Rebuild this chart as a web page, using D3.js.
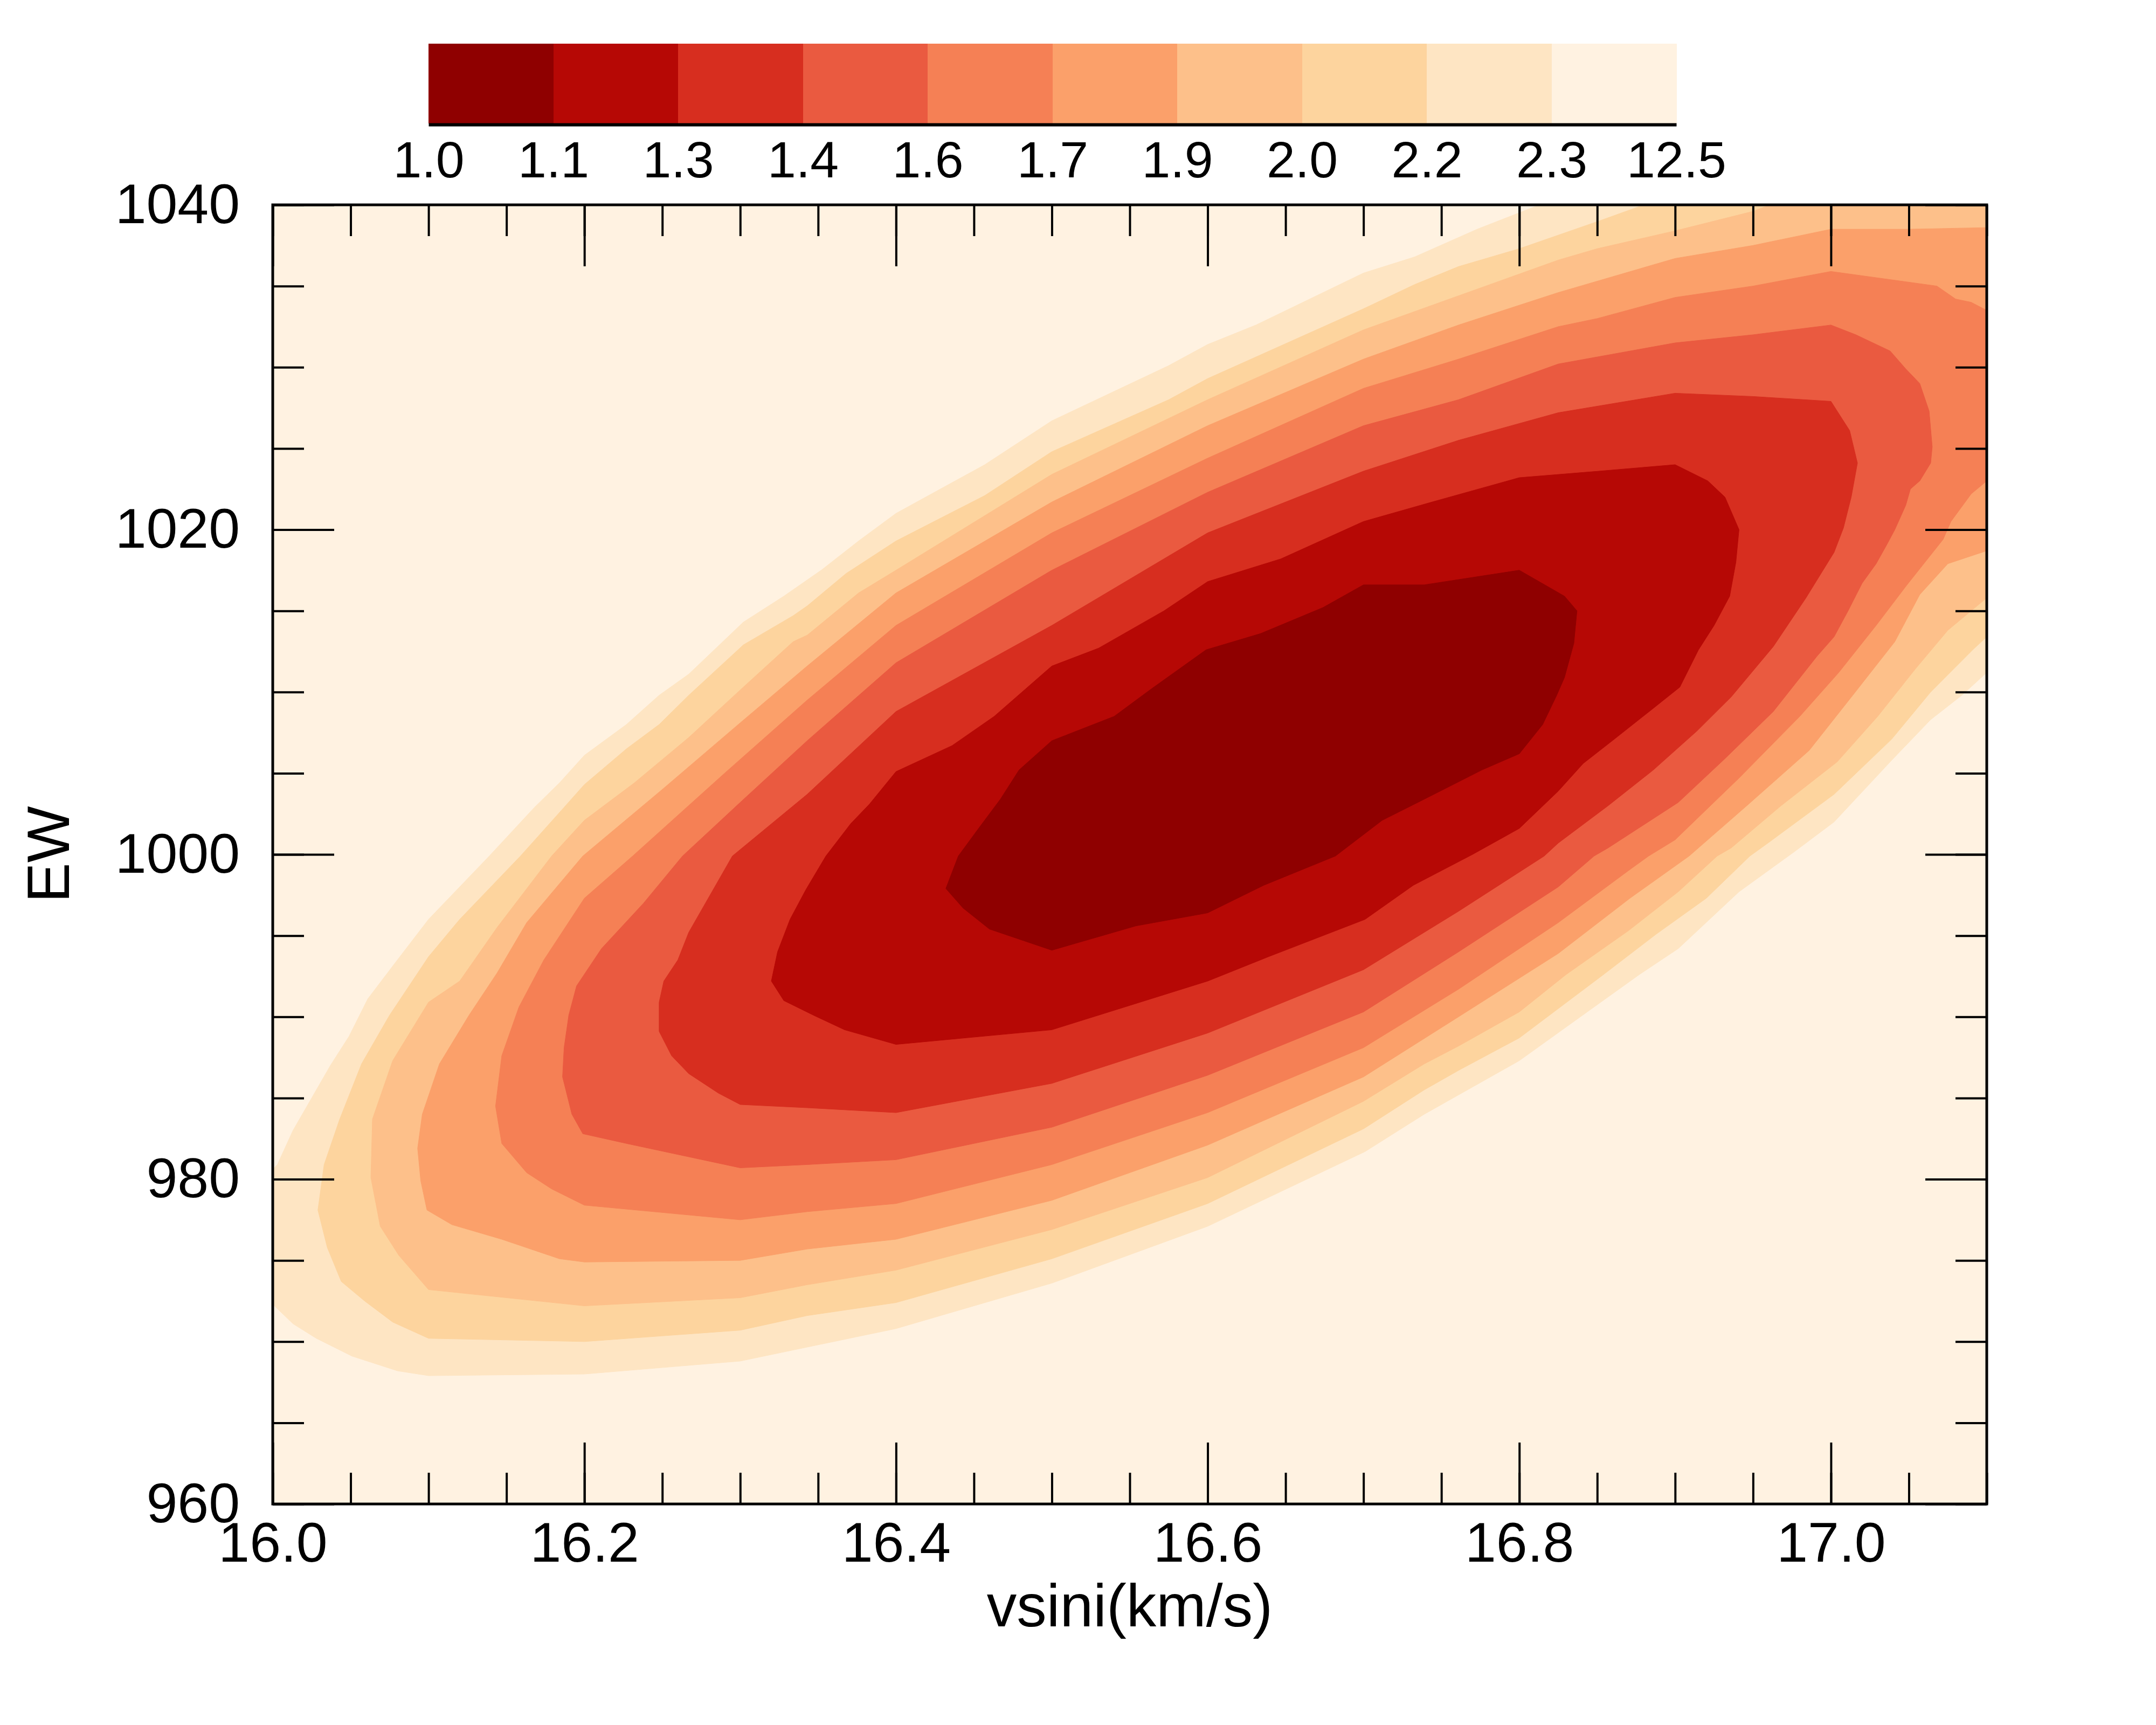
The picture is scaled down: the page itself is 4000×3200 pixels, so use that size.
<!DOCTYPE html>
<html>
<head>
<meta charset="utf-8">
<script src="https://cdn.jsdelivr.net/npm/d3@7/dist/d3.min.js"></script>
<style>
  body { margin: 0; background: #ffffff; }
  svg { display: block; }
</style>
</head>
<body>
<svg id="chart" width="4000" height="3200"></svg>
<script>
// Colour bar labels (contour levels)
const levels = ['1.0', '1.1', '1.3', '1.4', '1.6', '1.7', '1.9', '2.0', '2.2', '2.3', '12.5']

// Axis tick labels
const xTicks = [16.0, 16.2, 16.4, 16.6, 16.8, 17.0]
const yTicks = [960, 980, 1000, 1020, 1040]

// Contour outlines, [vsini, EW], outer level first
const level23 = [[16.0,980.6],[16.003,980.9],[16.013,983.0],[16.025,985.0],[16.037,987.0],[16.049,988.8],[16.061,991.1],[16.08,993.5],[16.1,996.0],[16.139,999.9],[16.168,1002.9],[16.184,1004.4],[16.2,1006.1],[16.227,1008.0],[16.248,1009.8],[16.267,1011.1],[16.302,1014.3],[16.328,1015.9],[16.352,1017.5],[16.376,1019.3],[16.4,1021.0],[16.457,1024.0],[16.5,1026.7],[16.575,1030.1],[16.6,1031.4],[16.631,1032.6],[16.7,1035.8],[16.733,1036.8],[16.773,1038.5],[16.813,1040.0],[17.1,1040.0],[17.1,1011.2],[17.084,1009.8],[17.064,1008.3],[17.038,1005.7],[17.002,1002.0],[16.977,1000.2],[16.941,997.7],[16.902,994.2],[16.877,992.6],[16.845,990.4],[16.8,987.3],[16.739,984.0],[16.701,981.7],[16.6,977.1],[16.5,973.6],[16.4,970.8],[16.3,968.8],[16.2,968.0],[16.1,967.9],[16.08,968.2],[16.051,969.1],[16.028,970.2],[16.013,971.1],[16.0,972.3]]

const level22 = [[16.029,978.1],[16.033,980.9],[16.043,983.7],[16.057,987.1],[16.075,990.1],[16.1,993.7],[16.12,996.0],[16.159,999.9],[16.187,1002.9],[16.2,1004.3],[16.227,1006.5],[16.248,1008.0],[16.267,1009.8],[16.302,1012.9],[16.334,1014.7],[16.343,1015.3],[16.368,1017.3],[16.4,1019.3],[16.457,1022.1],[16.5,1024.8],[16.575,1028.0],[16.6,1029.3],[16.7,1033.6],[16.733,1035.1],[16.761,1036.2],[16.8,1037.3],[16.851,1039.0],[16.88,1040.0],[17.1,1040.0],[17.1,1013.4],[17.091,1012.6],[17.064,1010.0],[17.039,1007.1],[17.002,1003.7],[16.961,1000.8],[16.948,999.9],[16.92,997.3],[16.888,995.1],[16.854,992.6],[16.8,988.7],[16.761,986.7],[16.739,985.5],[16.7,983.1],[16.6,978.5],[16.5,975.1],[16.4,972.4],[16.343,971.6],[16.3,970.7],[16.2,970.0],[16.1,970.2],[16.077,971.2],[16.059,972.5],[16.044,973.7],[16.035,975.8]]

const level20 = [[16.063,980.1],[16.064,983.7],[16.077,987.3],[16.1,990.9],[16.12,992.2],[16.144,995.5],[16.179,999.9],[16.2,1002.1],[16.232,1004.4],[16.267,1007.2],[16.302,1010.3],[16.334,1013.1],[16.343,1013.5],[16.376,1016.1],[16.4,1017.5],[16.5,1023.4],[16.6,1028.0],[16.7,1032.3],[16.761,1034.4],[16.825,1036.6],[16.85,1037.3],[16.9,1038.4],[16.95,1039.6],[16.961,1040.0],[17.1,1040.0],[17.1,1015.8],[17.075,1013.8],[17.054,1011.4],[17.03,1008.5],[17.004,1005.7],[16.968,1003.0],[16.936,1000.4],[16.927,999.9],[16.902,997.7],[16.87,995.3],[16.83,992.6],[16.8,990.3],[16.761,988.2],[16.739,987.1],[16.7,984.8],[16.6,980.1],[16.5,976.9],[16.4,974.4],[16.343,973.5],[16.3,972.7],[16.2,972.2],[16.1,973.2],[16.081,975.3],[16.069,977.1]]

const level19 = [[16.093,981.9],[16.096,984.0],[16.107,987.1],[16.126,990.1],[16.144,992.7],[16.163,995.8],[16.199,999.9],[16.25,1004.0],[16.3,1008.1],[16.343,1011.6],[16.4,1016.1],[16.5,1021.7],[16.6,1026.4],[16.7,1030.5],[16.761,1032.6],[16.825,1034.6],[16.9,1036.7],[16.95,1037.5],[17.0,1038.5],[17.05,1038.5],[17.1,1038.6],[17.1,1018.7],[17.075,1017.9],[17.057,1016.0],[17.041,1013.1],[17.014,1009.8],[16.986,1006.4],[16.946,1003.0],[16.909,999.9],[16.871,997.3],[16.825,993.9],[16.761,990.0],[16.7,986.3],[16.6,982.1],[16.5,978.7],[16.4,976.3],[16.343,975.7],[16.3,975.0],[16.2,974.9],[16.184,975.1],[16.147,976.3],[16.115,977.2],[16.099,978.1],[16.095,979.9]]

const level17 = [[16.143,984.5],[16.147,987.6],[16.158,990.6],[16.174,993.5],[16.2,997.3],[16.231,999.9],[16.29,1005.0],[16.343,1009.5],[16.4,1014.1],[16.5,1019.8],[16.6,1024.4],[16.7,1028.7],[16.761,1030.5],[16.825,1032.5],[16.85,1033.0],[16.9,1034.3],[16.95,1035.0],[17.0,1035.9],[17.068,1035.0],[17.08,1034.2],[17.09,1034.0],[17.1,1033.5],[17.1,1023.0],[17.09,1022.2],[17.077,1020.5],[17.072,1019.4],[17.048,1016.5],[17.029,1014.1],[17.005,1011.2],[16.98,1008.5],[16.941,1004.7],[16.9,1000.9],[16.883,999.9],[16.87,999.0],[16.825,995.8],[16.761,991.7],[16.7,988.1],[16.6,984.1],[16.5,980.9],[16.4,978.5],[16.343,978.0],[16.3,977.5],[16.2,978.4],[16.179,979.4],[16.163,980.4],[16.147,982.2]]

const level16 = [[16.186,986.3],[16.187,988.1],[16.19,990.1],[16.195,991.9],[16.211,994.2],[16.238,997.0],[16.263,999.9],[16.3,1003.2],[16.343,1007.0],[16.4,1011.8],[16.5,1017.5],[16.6,1022.3],[16.7,1026.4],[16.761,1028.0],[16.825,1030.2],[16.9,1031.5],[16.95,1032.0],[17.0,1032.6],[17.016,1032.0],[17.038,1031.0],[17.048,1029.9],[17.057,1029.0],[17.063,1027.3],[17.065,1025.1],[17.064,1024.1],[17.057,1023.0],[17.051,1022.5],[17.048,1021.5],[17.041,1020.0],[17.036,1019.1],[17.029,1017.9],[17.02,1016.7],[17.011,1015.0],[17.002,1013.4],[16.991,1012.2],[16.963,1008.8],[16.932,1005.9],[16.902,1003.2],[16.857,1000.4],[16.848,999.9],[16.825,998.0],[16.761,994.0],[16.7,990.3],[16.6,986.4],[16.5,983.2],[16.4,981.2],[16.343,980.9],[16.3,980.7],[16.227,982.2],[16.199,982.8],[16.192,984.0]]

const level14 = [[16.248,989.1],[16.248,990.9],[16.251,992.2],[16.26,993.5],[16.267,995.2],[16.295,999.9],[16.343,1003.7],[16.4,1008.8],[16.5,1014.1],[16.6,1019.8],[16.7,1023.6],[16.761,1025.5],[16.825,1027.2],[16.9,1028.4],[16.95,1028.2],[17.0,1027.9],[17.012,1026.1],[17.017,1024.1],[17.013,1022.0],[17.008,1020.1],[17.002,1018.6],[16.984,1015.8],[16.963,1012.8],[16.936,1009.7],[16.914,1007.6],[16.886,1005.2],[16.857,1003.0],[16.825,1000.7],[16.816,999.9],[16.761,996.5],[16.7,992.9],[16.6,989.0],[16.5,985.9],[16.4,984.1],[16.343,984.4],[16.3,984.6],[16.286,985.3],[16.267,986.5],[16.256,987.6]]

const level13 = [[16.32,992.2],[16.324,994.0],[16.332,996.0],[16.342,997.8],[16.355,999.9],[16.371,1001.9],[16.383,1003.1],[16.4,1005.1],[16.436,1006.7],[16.463,1008.5],[16.5,1011.6],[16.53,1012.7],[16.572,1015.0],[16.6,1016.8],[16.647,1018.2],[16.7,1020.5],[16.744,1021.7],[16.8,1023.2],[16.851,1023.6],[16.9,1024.0],[16.921,1023.0],[16.932,1022.0],[16.941,1020.0],[16.939,1018.0],[16.935,1015.9],[16.925,1014.1],[16.915,1012.6],[16.903,1010.3],[16.886,1009.0],[16.861,1007.1],[16.841,1005.6],[16.825,1003.9],[16.8,1001.6],[16.77,1000.0],[16.732,998.1],[16.701,996.0],[16.639,993.7],[16.6,992.2],[16.5,989.2],[16.4,988.3],[16.367,989.2],[16.347,990.1],[16.328,991.0]]

const level11 = [[16.44,999.9],[16.432,997.9],[16.443,996.7],[16.46,995.4],[16.5,994.1],[16.554,995.6],[16.6,996.4],[16.636,998.1],[16.682,999.9],[16.712,1002.1],[16.739,1003.4],[16.776,1005.2],[16.8,1006.2],[16.815,1008.0],[16.824,1009.8],[16.829,1010.9],[16.835,1013.0],[16.837,1015.0],[16.829,1015.9],[16.8,1017.5],[16.739,1016.6],[16.7,1016.6],[16.674,1015.2],[16.634,1013.6],[16.599,1012.6],[16.564,1010.2],[16.54,1008.5],[16.5,1007.0],[16.479,1005.2],[16.467,1003.4],[16.453,1001.6]]

// Fill colours, darkest (lowest level) first
const palette = ['#8f0000', '#b60805', '#d72e1f', '#ea5a40', '#f58055', '#fba06a', '#fdc08a', '#fdd49e', '#fee5c3', '#fff2e1']

// Outlines painted outermost first, each with the colour of the band just inside it
const contours = [level23, level22, level20, level19, level17, level16, level14, level13, level11]

const font = "'Liberation Sans', Arial, Helvetica, sans-serif"
const svg = d3.select('#chart')

// Plot area
const margin = { left: 506, right: 3686, top: 380, bottom: 2790 }
const x = d3.scaleLinear().domain([16.0, 17.1]).range([margin.left, margin.right])
const y = d3.scaleLinear().domain([960, 1040]).range([margin.bottom, margin.top])

svg.append('clipPath').attr('id', 'plot-clip')
  .append('rect')
  .attr('x', margin.left).attr('y', margin.top)
  .attr('width', margin.right - margin.left)
  .attr('height', margin.bottom - margin.top)

// Background = highest band
svg.append('rect')
  .attr('x', margin.left).attr('y', margin.top)
  .attr('width', margin.right - margin.left)
  .attr('height', margin.bottom - margin.top)
  .attr('fill', palette[9])

const line = d3.line().x(d => x(d[0])).y(d => y(d[1]))

svg.append('g')
  .attr('clip-path', 'url(#plot-clip)')
  .selectAll('path')
  .data(contours)
  .join('path')
  .attr('d', d => line(d) + 'Z')
  .attr('fill', (d, i) => palette[8 - i])
  .attr('stroke', (d, i) => palette[8 - i])
  .attr('stroke-width', 1)

// Inward ticks on all four sides
const styleAxis = g => {
  g.select('.domain').remove()
  g.selectAll('.tick line').attr('stroke', '#000').attr('stroke-width', 4)
  g.selectAll('.tick text').attr('fill', '#000')
  g.attr('font-family', font).attr('font-size', 104)
}

const major = 114
const minor = 58

svg.append('g').attr('transform', `translate(0,${margin.bottom})`)
  .call(d3.axisBottom(x).tickValues(xTicks).tickFormat(d3.format('.1f')).tickSize(-major).tickPadding(33))
  .call(styleAxis)
svg.append('g').attr('transform', `translate(0,${margin.bottom})`)
  .call(d3.axisBottom(x).ticks(22).tickFormat('').tickSize(-minor))
  .call(styleAxis)
svg.append('g').attr('transform', `translate(0,${margin.top})`)
  .call(d3.axisTop(x).tickValues(xTicks).tickFormat('').tickSize(-major))
  .call(styleAxis)
svg.append('g').attr('transform', `translate(0,${margin.top})`)
  .call(d3.axisTop(x).ticks(22).tickFormat('').tickSize(-minor))
  .call(styleAxis)

svg.append('g').attr('transform', `translate(${margin.left},0)`)
  .call(d3.axisLeft(y).tickValues(yTicks).tickFormat(d3.format('d')).tickSize(-major).tickPadding(61))
  .call(styleAxis)
svg.append('g').attr('transform', `translate(${margin.left},0)`)
  .call(d3.axisLeft(y).ticks(16).tickFormat('').tickSize(-minor))
  .call(styleAxis)
svg.append('g').attr('transform', `translate(${margin.right},0)`)
  .call(d3.axisRight(y).tickValues(yTicks).tickFormat('').tickSize(-major))
  .call(styleAxis)
svg.append('g').attr('transform', `translate(${margin.right},0)`)
  .call(d3.axisRight(y).ticks(16).tickFormat('').tickSize(-minor))
  .call(styleAxis)

// Frame
svg.append('rect')
  .attr('x', margin.left).attr('y', margin.top)
  .attr('width', margin.right - margin.left)
  .attr('height', margin.bottom - margin.top)
  .attr('fill', 'none')
  .attr('stroke', '#000')
  .attr('stroke-width', 5)

// Axis titles
svg.append('text')
  .attr('x', (margin.left + margin.right) / 2)
  .attr('y', 3017)
  .attr('text-anchor', 'middle')
  .attr('font-family', font)
  .attr('font-size', 111)
  .text('vsini(km/s)')

svg.append('text')
  .attr('transform', `translate(128,${(margin.top + margin.bottom) / 2}) rotate(-90)`)
  .attr('text-anchor', 'middle')
  .attr('font-family', font)
  .attr('font-size', 111)
  .text('EW')

// Colour bar
const cb = d3.scaleLinear().domain([0, levels.length - 1]).range([795, 3110])

svg.append('g')
  .selectAll('rect')
  .data(d3.range(levels.length - 1))
  .join('rect')
  .attr('x', i => cb(i))
  .attr('y', 81)
  .attr('width', i => cb(i + 1) - cb(i) + 0.5)
  .attr('height', 148)
  .attr('fill', i => palette[i])
  .attr('shape-rendering', 'crispEdges')

const cbAxis = svg.append('g')
  .attr('transform', 'translate(0,231)')
  .call(d3.axisBottom(cb).tickValues(d3.range(levels.length)).tickFormat(i => levels[i]).tickSize(0).tickSizeOuter(0).tickPadding(31))

cbAxis.select('.domain').attr('stroke', '#000').attr('stroke-width', 6)
cbAxis.attr('font-family', font).attr('font-size', 95)
cbAxis.selectAll('.tick text').attr('fill', '#000')
</script>
</body>
</html>
